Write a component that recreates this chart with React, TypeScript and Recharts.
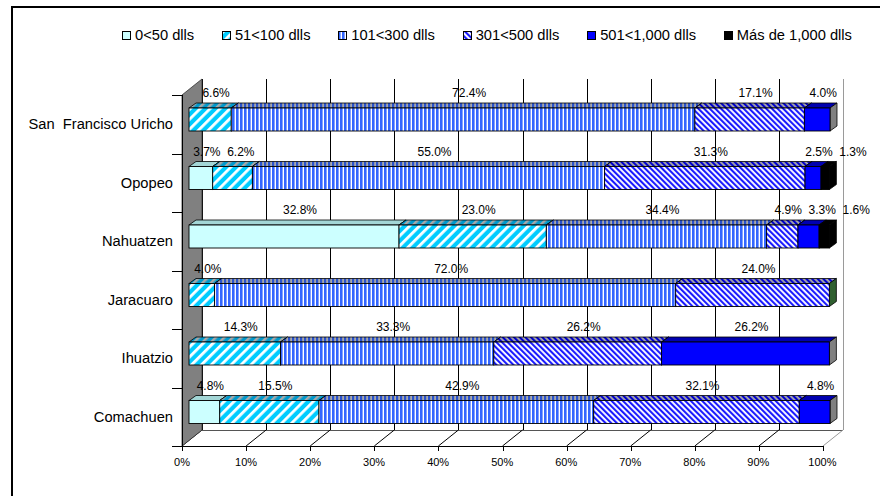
import React from 'react';
import * as RC from 'recharts';

const R: any = RC;
const { BarChart, Bar, XAxis, YAxis } = R;

// ---------- data ----------
const categories = ['San  Francisco Uricho', 'Opopeo', 'Nahuatzen', 'Jaracuaro', 'Ihuatzio', 'Comachuen'];
const seriesNames = ['0<50 dlls', '51<100 dlls', '101<300 dlls', '301<500 dlls', '501<1,000 dlls', 'Más de 1,000 dlls'];
const s0 = [0, 3.7, 32.8, 0, 0, 4.8];
const s1 = [6.6, 6.2, 23.0, 4.0, 14.3, 15.5];
const s2 = [72.4, 55.0, 34.4, 72.0, 33.3, 42.9];
const s3 = [17.1, 31.3, 4.9, 24.0, 26.2, 32.1];
const s4 = [4.0, 2.5, 3.3, 0, 26.2, 4.8];
const s5 = [0, 1.3, 1.6, 0, 0, 0];
const xTicks = [0, 10, 20, 30, 40, 50, 60, 70, 80, 90, 100];

const KEYS = ['k0', 'k1', 'k2', 'k3', 'k4', 'k5'];
const seriesValues = [s0, s1, s2, s3, s4, s5];
const rows = categories.map((name, i) => {
  const r: any = { name };
  KEYS.forEach((k, j) => (r[k] = seriesValues[j][i]));
  return r;
});

// ---------- styles ----------
const FONT = '"Liberation Sans", Arial, sans-serif';
const FRONT_FILL = ['#CCFFFF', 'url(#p1)', 'url(#p2)', 'url(#p3)', '#0000FF', '#000000'];
const TOP_FILL = ['#A3D6D6', 'url(#t1)', 'url(#t2)', 'url(#t3)', '#0000B0', '#000000'];
const SIDE_FILL = ['#99CCCC', '#0088BB', '#2244AA', '#2F5F2F', '#808080', '#000000'];
const LEGEND_FILL = ['#CCFFFF', 'url(#p1)', 'url(#p2)', 'url(#p3)', '#0000FF', '#000000'];

// 3D geometry (pixels)
const WALL_DX = 20, WALL_DY = 16; // chart depth
const BAR_OFF_X = 7, BAR_OFF_Y = 5; // bar front plane offset
const BAR_DX = 7, BAR_DY = 5; // bar depth
const LABEL_SHIFT = 6, MIN_GAP = 34;

const usePA: any = R.usePlotArea || (() => null);

function Frame() {
  const pa = usePA() || { x: 182, y: 95, width: 641, height: 351 };
  const { x, y, width: w, height: h } = pa;
  const bottom = y + h;
  const fx = (v: number) => x + (v / 100) * w;
  const nCat = categories.length;
  const bandTicks = Array.from({ length: nCat + 1 }, (_, i) => y + (i * h) / nCat);
  return (
    <g>
      <rect x={x + WALL_DX} y={y - WALL_DY} width={w} height={h} fill="#FFFFFF" />
      <polygon
        points={`${x},${bottom} ${x + WALL_DX},${bottom - WALL_DY} ${x + w + WALL_DX},${bottom - WALL_DY} ${x + w},${bottom}`}
        fill="#FFFFFF"
      />
      {xTicks.map((t) => (
        <line
          key={'g' + t}
          x1={Math.round(fx(t) + WALL_DX) + 0.5}
          x2={Math.round(fx(t) + WALL_DX) + 0.5}
          y1={y - WALL_DY}
          y2={bottom - WALL_DY}
          stroke={t === 100 ? '#9A9A9A' : '#000'}
          strokeWidth={1}
          shapeRendering="crispEdges"
        />
      ))}
      <line x1={x + WALL_DX} x2={x + w + WALL_DX} y1={Math.round(bottom - WALL_DY) + 0.5} y2={Math.round(bottom - WALL_DY) + 0.5} stroke="#555" shapeRendering="crispEdges" />
      {xTicks.map((t) => (
        <line
          key={'d' + t}
          x1={fx(t)}
          y1={bottom}
          x2={fx(t) + WALL_DX}
          y2={bottom - WALL_DY}
          stroke={t === 100 ? '#9A9A9A' : '#000'}
          strokeWidth={1}
        />
      ))}
      <polygon
        points={`${x},${y} ${x + WALL_DX},${y - WALL_DY} ${x + WALL_DX},${bottom - WALL_DY} ${x},${bottom}`}
        fill="#808080"
        stroke="#333"
        strokeWidth={0.8}
      />
      <line x1={x - 10} x2={x + w} y1={Math.round(bottom) + 0.5} y2={Math.round(bottom) + 0.5} stroke="#000" shapeRendering="crispEdges" />
      {xTicks.map((t) => (
        <line
          key={'xt' + t}
          x1={Math.round(fx(t)) + 0.5}
          x2={Math.round(fx(t)) + 0.5}
          y1={bottom}
          y2={bottom + 5}
          stroke="#000"
          shapeRendering="crispEdges"
        />
      ))}
      {bandTicks.map((ty, i) => (
        <line
          key={'yt' + i}
          x1={x - 10}
          x2={x}
          y1={Math.round(ty) + 0.5}
          y2={Math.round(ty) + 0.5}
          stroke="#000"
          shapeRendering="crispEdges"
        />
      ))}
      <line x1={x + 0.5} x2={x + 0.5} y1={y} y2={bottom} stroke="#000" shapeRendering="crispEdges" />
    </g>
  );
}

function labelCenters(vals: number[], x0: number, pxPer: number) {
  const res: number[] = [];
  let cum = 0;
  let prev = -Infinity;
  vals.forEach((v, j) => {
    if (v > 0) {
      let c = x0 + (cum + v / 2) * pxPer + LABEL_SHIFT;
      if (c < prev + MIN_GAP) c = prev + MIN_GAP;
      res[j] = c;
      prev = c;
    }
    cum += v;
  });
  return res;
}

function Seg(props: any) {
  const { x, y, width, height, payload, si } = props;
  if (!payload || !(width > 0.01)) return <g />;
  const vals = KEYS.map((k) => Number(payload[k]) || 0);
  const v = vals[si];
  if (!(v > 0)) return <g />;
  const X = x + BAR_OFF_X;
  const Y = y - BAR_OFF_Y;
  const w = width;
  const h = height;
  const cumBefore = vals.slice(0, si).reduce((a, b) => a + b, 0);
  const pxPer = w / v;
  const x0 = X - cumBefore * pxPer;
  const centers = labelCenters(vals, x0, pxPer);
  const lx = centers[si];
  return (
    <g>
      <polygon
        points={`${X},${Y} ${X + BAR_DX},${Y - BAR_DY} ${X + w + BAR_DX},${Y - BAR_DY} ${X + w},${Y}`}
        fill={TOP_FILL[si]}
        stroke="#000"
        strokeWidth={0.8}
      />
      <polygon
        points={`${X + w},${Y} ${X + w + BAR_DX},${Y - BAR_DY} ${X + w + BAR_DX},${Y + h - BAR_DY} ${X + w},${Y + h}`}
        fill={SIDE_FILL[si]}
        stroke="#000"
        strokeWidth={0.8}
      />
      <rect x={X} y={Y} width={w} height={h} fill={FRONT_FILL[si]} stroke="#000" strokeWidth={0.9} />
      <text x={lx} y={Y - 11} textAnchor="middle" fontSize={12} fontFamily={FONT} fill="#000">
        {v.toFixed(1) + '%'}
      </text>
    </g>
  );
}

function CatTick(props: any) {
  const { x, y, payload } = props;
  return (
    <text x={x} y={y} textAnchor="end" dominantBaseline="central" fontSize={14.7} fontWeight="normal" fontFamily={FONT} fill="#000" xmlSpace="preserve" style={{ whiteSpace: 'pre' }}>
      {payload.value}
    </text>
  );
}

function Patterns() {
  return (
    <svg width={0} height={0} style={{ position: 'absolute', left: 0, top: 0 }}>
      <defs>
        <pattern id="p1" patternUnits="userSpaceOnUse" width={7} height={7} patternTransform="rotate(45)">
          <rect width={7} height={7} fill="#00CCFF" />
          <rect width={2.8} height={7} fill="#FFFFFF" />
        </pattern>
        <pattern id="t1" patternUnits="userSpaceOnUse" width={6} height={6} patternTransform="rotate(45)">
          <rect width={6} height={6} fill="#0099CC" />
          <rect width={2.5} height={6} fill="#A8A8A8" />
        </pattern>
        <pattern id="p2" patternUnits="userSpaceOnUse" width={4} height={4}>
          <rect width={4} height={4} fill="#FFFFFF" />
          <rect width={2.6} height={4} fill="#3366FF" />
        </pattern>
        <pattern id="t2" patternUnits="userSpaceOnUse" width={4} height={4}>
          <rect width={4} height={4} fill="#A8A8A8" />
          <rect width={2.2} height={4} fill="#2A52CC" />
        </pattern>
        <pattern id="p3" patternUnits="userSpaceOnUse" width={4} height={4} patternTransform="rotate(-45)">
          <rect width={4} height={4} fill="#FFFFFF" />
          <rect width={2.1} height={4} fill="#1A1AFF" />
        </pattern>
        <pattern id="t3" patternUnits="userSpaceOnUse" width={4} height={4} patternTransform="rotate(-45)">
          <rect width={4} height={4} fill="#A8A8A8" />
          <rect width={2.1} height={4} fill="#0000CC" />
        </pattern>
      </defs>
    </svg>
  );
}

function LegendBox() {
  return (
    <div
      style={{
        position: 'absolute',
        left: 122,
        top: 26,
        width: 730,
        height: 18,
        display: 'flex',
        justifyContent: 'space-between',
        alignItems: 'center',
        fontFamily: FONT,
        fontSize: 14.7,
        lineHeight: '18px',
        color: '#000',
        whiteSpace: 'nowrap',
      }}
    >
      {seriesNames.map((n, i) => (
        <div key={n} style={{ display: 'flex', alignItems: 'center' }}>
          <svg width={9} height={9} style={{ marginRight: 4, display: 'block' }}>
            <rect x={0.5} y={0.5} width={8} height={8} fill={LEGEND_FILL[i]} stroke="#000" strokeWidth={1} />
          </svg>
          <span>{n}</span>
        </div>
      ))}
    </div>
  );
}

export default function App() {
  const Customized = R.Customized;
  return (
    <div style={{ position: 'relative', width: 880, height: 496, overflow: 'hidden', background: '#fff' }}>
      <style>{'html,body{margin:0;padding:0;overflow:hidden;background:#fff;}'}</style>
      <Patterns />
      <div
        style={{
          position: 'absolute',
          left: 11,
          top: 6,
          width: 900,
          height: 520,
          border: '2px solid #000',
          boxSizing: 'border-box',
        }}
      />
      <div style={{ position: 'absolute', left: 0, top: 0 }}>
        <BarChart
          width={880}
          height={496}
          data={rows}
          layout="vertical"
          margin={{ top: 95, right: 57, bottom: 20, left: 0 }}
          barSize={23}
        >
          {Customized ? <Customized component={<Frame />} /> : <Frame />}
          <XAxis
            type="number"
            domain={[0, 100]}
            ticks={xTicks}
            interval={0}
            tickFormatter={(v: number) => v + '%'}
            axisLine={false}
            tickLine={false}
            tickSize={0}
            tickMargin={12}
            height={30}
            tick={{ fontSize: 11, fill: '#000', fontFamily: FONT }}
          />
          <YAxis
            type="category"
            dataKey="name"
            width={182}
            axisLine={false}
            tickLine={false}
            tickSize={0}
            tickMargin={9}
            interval={0}
            tick={<CatTick />}
          />
          {KEYS.map((k, i) => (
            <Bar
              key={k}
              dataKey={k}
              name={seriesNames[i]}
              stackId="a"
              isAnimationActive={false}
              shape={(p: any) => <Seg {...p} si={i} />}
            />
          ))}
        </BarChart>
      </div>
      <LegendBox />
    </div>
  );
}
